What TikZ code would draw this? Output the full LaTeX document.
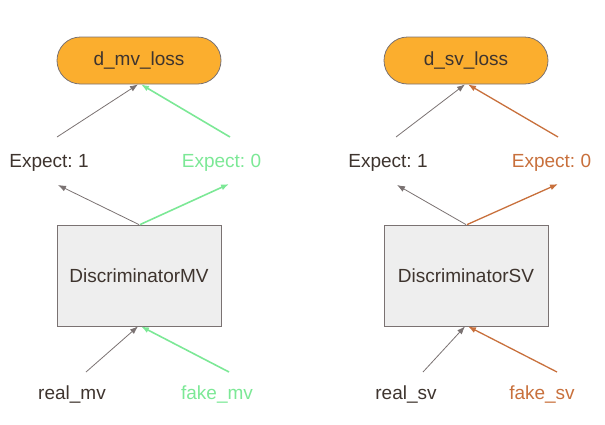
\documentclass[tikz,border=0pt]{standalone}
\usepackage{fontspec}
\setmainfont{Liberation Sans}
\usetikzlibrary{arrows.meta}
\frenchspacing
\definecolor{txt}{HTML}{3E342E}
\definecolor{edge}{HTML}{7A7272}
\definecolor{pillfill}{HTML}{FBAE2E}
\definecolor{boxfill}{HTML}{EEEEEE}
\definecolor{grn}{HTML}{7CE896}
\definecolor{org}{HTML}{C8703C}
\tikzset{
  lossnode/.style={draw=edge, fill=pillfill, rounded corners=23.5pt, minimum width=164pt, minimum height=47pt, inner sep=0pt, text=txt, line width=0.8pt},
  discnode/.style={draw=edge, fill=boxfill, minimum width=164pt, minimum height=101pt, inner sep=0pt, text=txt, line width=0.8pt},
  lbl/.style={inner sep=0pt, text=txt},
  grayarrow/.style={draw=edge, line width=0.8pt, -{Latex[length=8pt,width=6pt]}},
  grnarrow/.style={draw=grn, line width=1.6pt, -{Latex[length=8pt,width=6pt]}},
  orgarrow/.style={draw=org, line width=1.3pt, -{Latex[length=8pt,width=6pt]}},
}
\begin{document}
\begin{tikzpicture}[x=1pt,y=-1pt,font=\fontsize{19}{22}\selectfont\frenchspacing]
\useasboundingbox (0,0) rectangle (605,424);
% ---------- left (MV) ----------
\node[lossnode] (lossmv) at (139,60.5) {\raisebox{-1.5pt}{d\_mv\_loss}};
\node[discnode] (discmv) at (139,275.5) {DiscriminatorMV};
\node[lbl] (e1mv) at (49,162.5) {Expect: 1};
\node[lbl,text=grn] (e0mv) at (221.5,162.5) {Expect: 0};
\node[lbl] (realmv) at (72,394.5) {real\_mv};
\node[lbl,text=grn] (fakemv) at (217,394.5) {fake\_mv};
\coordinate (e1mvt) at (57,137);
\coordinate (e1mvb) at (58,185);
\coordinate (e0mvt) at (230,137);
\coordinate (e0mvb) at (229,184);
\coordinate (realmvt) at (86,372);
\coordinate (fakemvt) at (229,372);
\draw[grayarrow] (e1mvt) -- ([xshift=-1pt]lossmv.south);
\draw[grnarrow] (e0mvt) -- ([xshift=2pt]lossmv.south);
\draw[grayarrow] (discmv.north) -- (e1mvb);
\draw[grnarrow] ([xshift=1pt]discmv.north) -- (e0mvb);
\draw[grayarrow] (realmvt) -- ([xshift=-1pt]discmv.south);
\draw[grnarrow] (fakemvt) -- ([xshift=2pt]discmv.south);
% ---------- right (SV) ----------
\node[lossnode] (losssv) at (466,60.5) {\raisebox{-1.5pt}{d\_sv\_loss}};
\node[discnode] (discsv) at (466,275.5) {DiscriminatorSV};
\node[lbl] (e1sv) at (388,162.5) {Expect: 1};
\node[lbl,text=org] (e0sv) at (551.5,162.5) {Expect: 0};
\node[lbl] (realsv) at (406,394.5) {real\_sv};
\node[lbl,text=org] (fakesv) at (542,394.5) {fake\_sv};
\coordinate (e1svt) at (396,137);
\coordinate (e1svb) at (397,185);
\coordinate (e0svt) at (558,137);
\coordinate (e0svb) at (558,184);
\coordinate (realsvt) at (423,372);
\coordinate (fakesvt) at (557,372);
\draw[grayarrow] (e1svt) -- ([xshift=-1pt]losssv.south);
\draw[orgarrow] (e0svt) -- ([xshift=2pt]losssv.south);
\draw[grayarrow] (discsv.north) -- (e1svb);
\draw[orgarrow] ([xshift=1pt]discsv.north) -- (e0svb);
\draw[grayarrow] (realsvt) -- ([xshift=-1pt]discsv.south);
\draw[orgarrow] (fakesvt) -- ([xshift=2pt]discsv.south);
\end{tikzpicture}
\end{document}
